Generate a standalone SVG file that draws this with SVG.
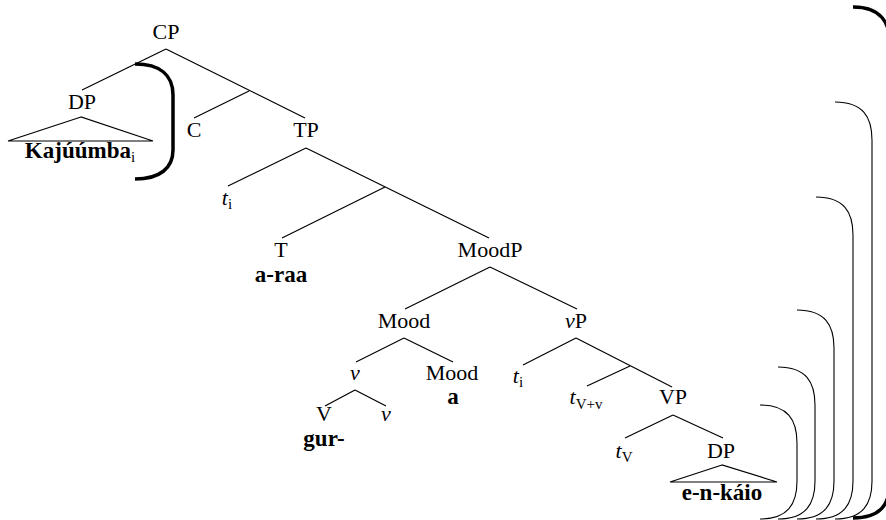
<svg xmlns="http://www.w3.org/2000/svg" width="886" height="520" viewBox="0 0 886 520">
<style>
text{font-family:'Liberation Serif','Times New Roman',serif;font-size:22px;fill:#000;text-anchor:middle}
.b{font-weight:bold;font-size:23px}
.it{font-style:italic}
.sub{font-size:15px;font-style:normal;font-weight:normal}
.e{stroke:#000;stroke-width:1.2;fill:none}
.br{stroke:#000;stroke-width:1.1;fill:none}
.tbr{stroke:#000;stroke-width:3.5;fill:none}
</style>
<rect width="886" height="520" fill="#fff"/>
<g id="connectors">
<line class="e" x1="166" y1="49" x2="82" y2="90"/>
<line class="e" x1="166" y1="49" x2="305" y2="118"/>
<line class="e" x1="249" y1="91" x2="194" y2="118"/>
<line class="e" x1="306" y1="148" x2="228" y2="186"/>
<line class="e" x1="306" y1="148" x2="489" y2="238"/>
<line class="e" x1="385" y1="187" x2="282" y2="238"/>
<line class="e" x1="490" y1="267" x2="405" y2="309"/>
<line class="e" x1="490" y1="267" x2="577" y2="309"/>
<line class="e" x1="404" y1="338" x2="356" y2="362"/>
<line class="e" x1="404" y1="338" x2="453" y2="362"/>
<line class="e" x1="355" y1="390" x2="325" y2="406"/>
<line class="e" x1="355" y1="390" x2="386" y2="406"/>
<line class="e" x1="576" y1="338" x2="523" y2="365"/>
<line class="e" x1="576" y1="338" x2="672" y2="387"/>
<line class="e" x1="630" y1="366" x2="587" y2="386"/>
<line class="e" x1="673" y1="415" x2="625" y2="438"/>
<line class="e" x1="673" y1="415" x2="723" y2="438"/>
</g>
<g id="n-CP"><text x="166" y="39" font-family="Liberation Serif">CP</text></g>
<g id="n-DP1">
<text x="82" y="109" font-family="Liberation Serif">DP</text>
<polygon class="e" points="81,117 8,141 153,141"/>
<text class="b" x="80" y="158" font-family="Liberation Serif">Kajúúmba<tspan class="sub" dy="4">i</tspan></text>
</g>
<g id="n-C"><text x="194" y="137" font-family="Liberation Serif">C</text></g>
<g id="n-TP"><text x="306" y="137" font-family="Liberation Serif">TP</text></g>
<g id="n-ti1"><text x="227" y="205" font-family="Liberation Serif"><tspan class="it">t</tspan><tspan class="sub" dy="4">i</tspan></text></g>
<g id="n-T"><text x="281" y="257" font-family="Liberation Serif">T</text><text class="b" x="281" y="282" font-family="Liberation Serif">a-raa</text></g>
<g id="n-MoodP"><text x="490" y="257" font-family="Liberation Serif">MoodP</text></g>
<g id="n-Mood1"><text x="404" y="328" font-family="Liberation Serif">Mood</text></g>
<g id="n-vP"><text x="576" y="328" font-family="Liberation Serif"><tspan class="it">v</tspan>P</text></g>
<g id="n-v1"><text class="it" x="355" y="380" font-family="Liberation Serif">v</text></g>
<g id="n-Mood2"><text x="452" y="380" font-family="Liberation Serif">Mood</text><text class="b" x="453" y="404" font-family="Liberation Serif">a</text></g>
<g id="n-V"><text x="324" y="421" font-family="Liberation Serif">V</text><text class="b" x="324" y="446" font-family="Liberation Serif">gur-</text></g>
<g id="n-v2"><text class="it" x="386" y="421" font-family="Liberation Serif">v</text></g>
<g id="n-ti2"><text x="518" y="383" font-family="Liberation Serif"><tspan class="it">t</tspan><tspan class="sub" dy="4">i</tspan></text></g>
<g id="n-tVv"><text x="586" y="404" font-family="Liberation Serif"><tspan class="it">t</tspan><tspan class="sub" dy="5">V+</tspan><tspan class="sub" font-style="italic">v</tspan></text></g>
<g id="n-VP"><text x="673" y="404" font-family="Liberation Serif">VP</text></g>
<g id="n-tV"><text x="624" y="458" font-family="Liberation Serif"><tspan class="it">t</tspan><tspan class="sub" dy="4">V</tspan></text></g>
<g id="n-DP2">
<text x="721" y="458" font-family="Liberation Serif">DP</text>
<polygon class="e" points="722,465 670,482 777,482"/>
<text class="b" x="722" y="500" font-family="Liberation Serif">e-n-káio</text>
</g>
<g id="brackets">
<path class="tbr" d="M135,64 C160,64 173,75 173,95 L173,150 C173,168 160,179 135,179"/>
<path class="br" d="M760,405 C788,405 797,420 797,443 L797,481 C797,504 788,519 760,519"/>
<path class="br" d="M778,367 C806,367 815,382 815,405 L815,481 C815,504 806,519 778,519"/>
<path class="br" d="M797,310 C825,310 834,325 834,348 L834,481 C834,504 825,519 797,519"/>
<path class="br" d="M816,197 C844,197 853,212 853,235 L853,481 C853,504 844,519 816,519"/>
<path class="br" d="M835,102 C863,102 872,117 872,140 L872,481 C872,504 863,519 835,519"/>
<path class="tbr" d="M853,7 C881,7 890,22 890,45 L890,481 C890,504 881,518 853,518"/>
</g>
</svg>
